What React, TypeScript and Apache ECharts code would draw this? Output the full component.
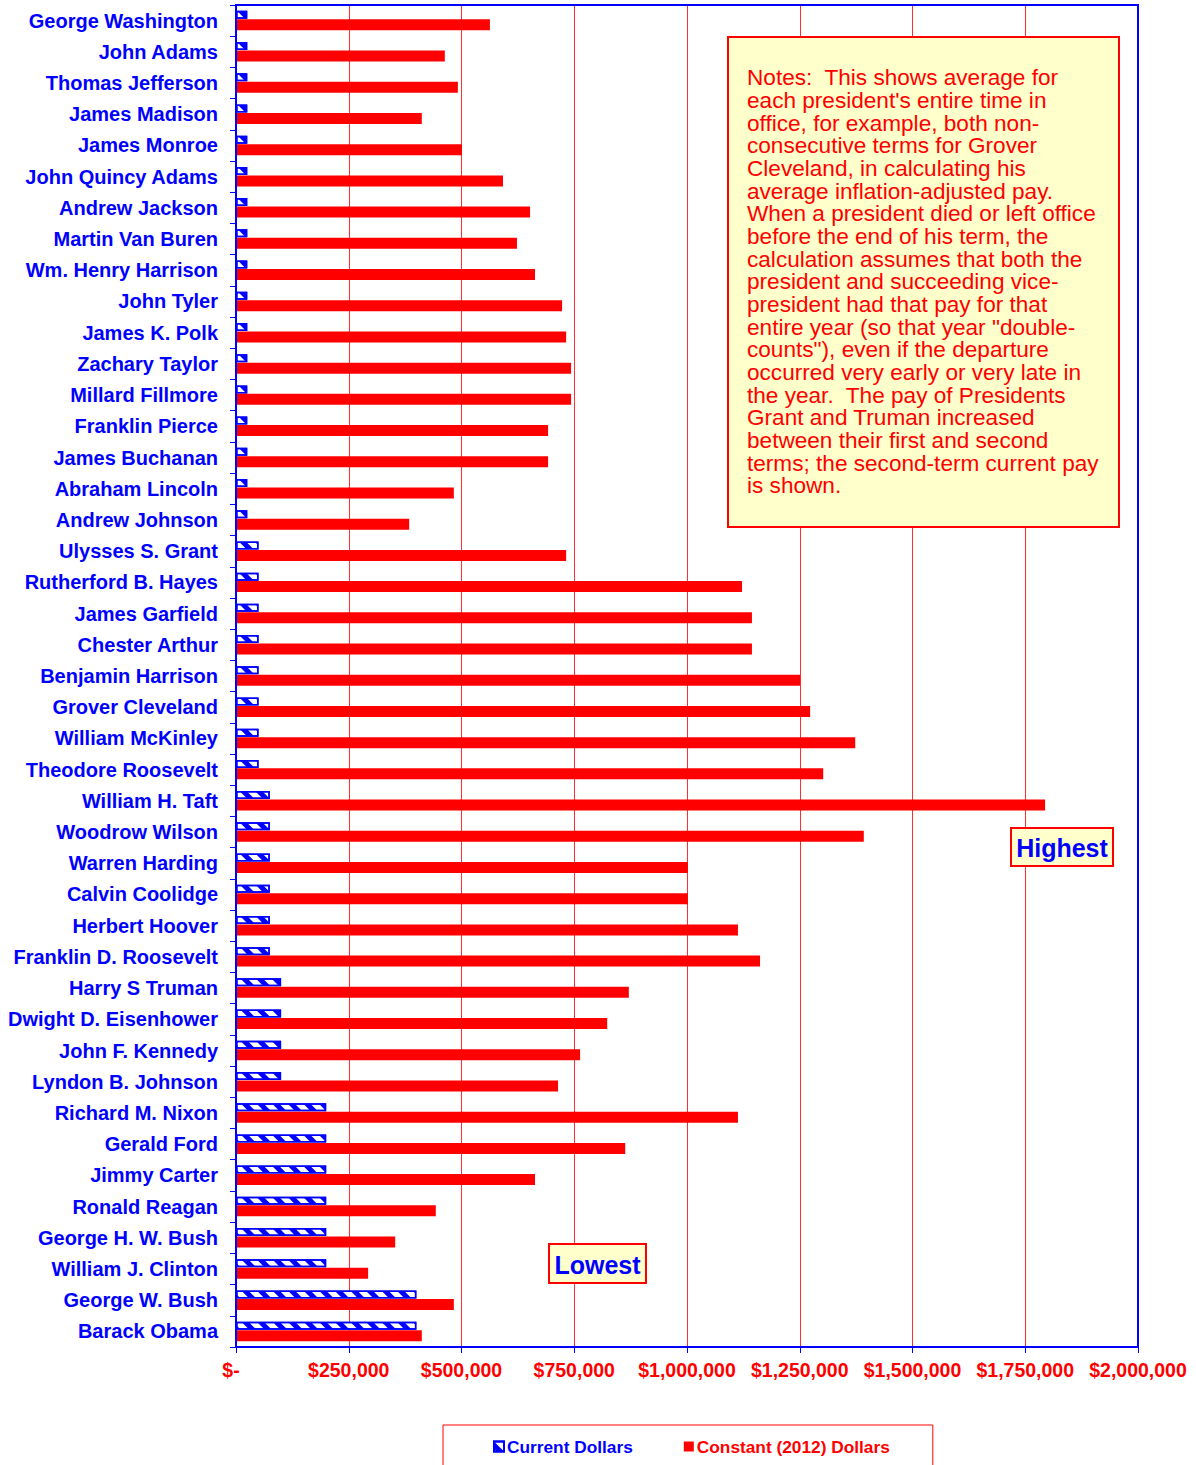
import React, { useEffect, useRef } from "react";
import * as echarts from "echarts";

const presidents = [
  "George Washington", "John Adams", "Thomas Jefferson", "James Madison", "James Monroe",
  "John Quincy Adams", "Andrew Jackson", "Martin Van Buren", "Wm. Henry Harrison", "John Tyler",
  "James K. Polk", "Zachary Taylor", "Millard Fillmore", "Franklin Pierce", "James Buchanan",
  "Abraham Lincoln", "Andrew Johnson", "Ulysses S. Grant", "Rutherford B. Hayes", "James Garfield",
  "Chester Arthur", "Benjamin Harrison", "Grover Cleveland", "William McKinley", "Theodore Roosevelt",
  "William H. Taft", "Woodrow Wilson", "Warren Harding", "Calvin Coolidge", "Herbert Hoover",
  "Franklin D. Roosevelt", "Harry S Truman", "Dwight D. Eisenhower", "John F. Kennedy", "Lyndon B. Johnson",
  "Richard M. Nixon", "Gerald Ford", "Jimmy Carter", "Ronald Reagan", "George H. W. Bush",
  "William J. Clinton", "George W. Bush", "Barack Obama",
];

const currentDollars = [
  25000, 25000, 25000, 25000, 25000,
  25000, 25000, 25000, 25000, 25000,
  25000, 25000, 25000, 25000, 25000,
  25000, 25000, 50000, 50000, 50000,
  50000, 50000, 50000, 50000, 50000,
  75000, 75000, 75000, 75000, 75000,
  75000, 100000, 100000, 100000, 100000,
  200000, 200000, 200000, 200000, 200000,
  200000, 400000, 400000,
];

const constantDollars = [
  563000, 463000, 492000, 412000, 501000,
  592000, 652000, 623000, 663000, 723000,
  732000, 743000, 743000, 692000, 692000,
  483000, 384000, 732000, 1122000, 1144000,
  1144000, 1251000, 1273000, 1373000, 1302000,
  1794000, 1392000, 1002000, 1002000, 1113000,
  1162000, 871000, 823000, 763000, 714000,
  1113000, 863000, 663000, 443000, 353000,
  293000, 483000, 412000,
];

const seriesNames = ["Current Dollars", "Constant (2012) Dollars"];

const xTicks = { min: 0, max: 2000000, interval: 250000 };

const notesLines = [
  "Notes:  This shows average for",
  "each president's entire time in",
  "office, for example, both non-",
  "consecutive terms for Grover",
  "Cleveland, in calculating his",
  "average inflation-adjusted pay.",
  "When a president died or left office",
  "before the end of his term, the",
  "calculation assumes that both the",
  "president and succeeding vice-",
  "president had that pay for that",
  "entire year (so that year \"double-",
  "counts\"), even if the departure",
  "occurred very early or very late in",
  "the year.  The pay of Presidents",
  "Grant and Truman increased",
  "between their first and second",
  "terms; the second-term current pay",
  "is shown.",
];

const FONT = "'Liberation Sans', Arial, Helvetica, sans-serif";
const BLUE = "#0000ff";
const RED = "#ff0000";
const YELLOW = "#ffffcc";

function formatMoney(v: number): string {
  if (v === 0) return "{z|$-}";
  return "$" + v.toLocaleString("en-US");
}

export default function App() {
  const ref = useRef<HTMLDivElement>(null);

  useEffect(() => {
    document.body.style.margin = "0";
    if (!ref.current) return;
    const chart = echarts.init(ref.current, null, { renderer: "svg" });
    chart.setOption({
      animation: false,
      backgroundColor: "#ffffff",
      grid: {
        left: 236,
        top: 5,
        width: 902,
        height: 1342,
        show: true,
        borderColor: BLUE,
        borderWidth: 2,
        backgroundColor: "transparent",
        containLabel: false,
        z: 5,
      },
      legend: {
        left: 443,
        top: 1425,
        orient: "horizontal",
        padding: [13, 43, 14, 50],
        itemGap: 51,
        itemWidth: 10,
        itemHeight: 10,
        icon: "rect",
        borderColor: RED,
        borderWidth: 1,
        backgroundColor: "#ffffff",
        selectedMode: false,
        textStyle: { fontFamily: FONT, fontWeight: "bold", fontSize: 17.3, padding: [0, 0, 0, -2] },
        data: [
          { name: seriesNames[0], textStyle: { color: BLUE } },
          { name: seriesNames[1], textStyle: { color: RED } },
        ],
      },
      xAxis: {
        type: "value",
        min: xTicks.min,
        max: xTicks.max,
        interval: xTicks.interval,
        axisLine: { show: true, lineStyle: { color: BLUE, width: 2 } },
        axisTick: { show: true, length: 6, lineStyle: { color: BLUE, width: 1 } },
        splitLine: { show: true, lineStyle: { color: "#ff3030", width: 1 } },
        axisLabel: {
          color: RED,
          fontFamily: FONT,
          fontWeight: "bold",
          fontSize: 19.5,
          margin: 13,
          formatter: (v: number) => formatMoney(v),
          rich: {
            z: {
              color: RED,
              fontFamily: FONT,
              fontWeight: "bold",
              fontSize: 19.5,
              padding: [0, 10, 0, 0],
            },
          },
        },
      },
      yAxis: {
        type: "category",
        inverse: true,
        data: presidents,
        axisLine: { show: true, lineStyle: { color: BLUE, width: 2 } },
        axisTick: { show: true, length: 6, lineStyle: { color: BLUE, width: 1 } },
        splitLine: { show: false },
        axisLabel: {
          color: BLUE,
          fontFamily: FONT,
          fontWeight: "bold",
          fontSize: 20,
          margin: 18,
          interval: 0,
        },
      },
      series: [
        {
          name: seriesNames[0],
          type: "bar",
          data: currentDollars,
          barWidth: 8,
          barGap: "6%",
          itemStyle: {
            color: "#ffffff",
            borderColor: BLUE,
            borderWidth: 1.5,
            decal: {
              symbol: "rect",
              symbolSize: 1,
              color: BLUE,
              backgroundColor: "#ffffff",
              dashArrayX: [1, 0],
              dashArrayY: [5, 5.5],
              rotation: Math.PI / 4,
            },
          },
        },
        {
          name: seriesNames[1],
          type: "bar",
          data: constantDollars,
          barWidth: 11,
          barGap: "6%",
          itemStyle: { color: RED },
        },
      ],
      graphic: [
        {
          type: "rect",
          shape: { x: 728, y: 37, width: 391, height: 490 },
          style: { fill: YELLOW, stroke: RED, lineWidth: 2 },
          z: 100,
        },
        {
          type: "text",
          x: 747,
          y: 66.5,
          z: 101,
          style: {
            text: notesLines.join("\n"),
            fill: RED,
            fontFamily: FONT,
            fontSize: 22.6,
            lineHeight: 22.67,
            textAlign: "left",
            textVerticalAlign: "top",
          },
        },
        {
          type: "rect",
          shape: { x: 1011, y: 828, width: 102, height: 38 },
          style: { fill: YELLOW, stroke: RED, lineWidth: 2 },
          z: 100,
        },
        {
          type: "text",
          x: 1062,
          y: 848,
          z: 101,
          style: {
            text: "Highest",
            fill: BLUE,
            fontFamily: FONT,
            fontWeight: "bold",
            fontSize: 25,
            textAlign: "center",
            textVerticalAlign: "middle",
          },
        },
        {
          type: "rect",
          shape: { x: 549, y: 1244, width: 97, height: 39 },
          style: { fill: YELLOW, stroke: RED, lineWidth: 2 },
          z: 100,
        },
        {
          type: "text",
          x: 597.5,
          y: 1264.5,
          z: 101,
          style: {
            text: "Lowest",
            fill: BLUE,
            fontFamily: FONT,
            fontWeight: "bold",
            fontSize: 25,
            textAlign: "center",
            textVerticalAlign: "middle",
          },
        },
      ],
    });
    return () => chart.dispose();
  }, []);

  return (
    <div
      ref={ref}
      style={{ position: "absolute", left: 0, top: 0, width: 1196, height: 1465 }}
    />
  );
}
